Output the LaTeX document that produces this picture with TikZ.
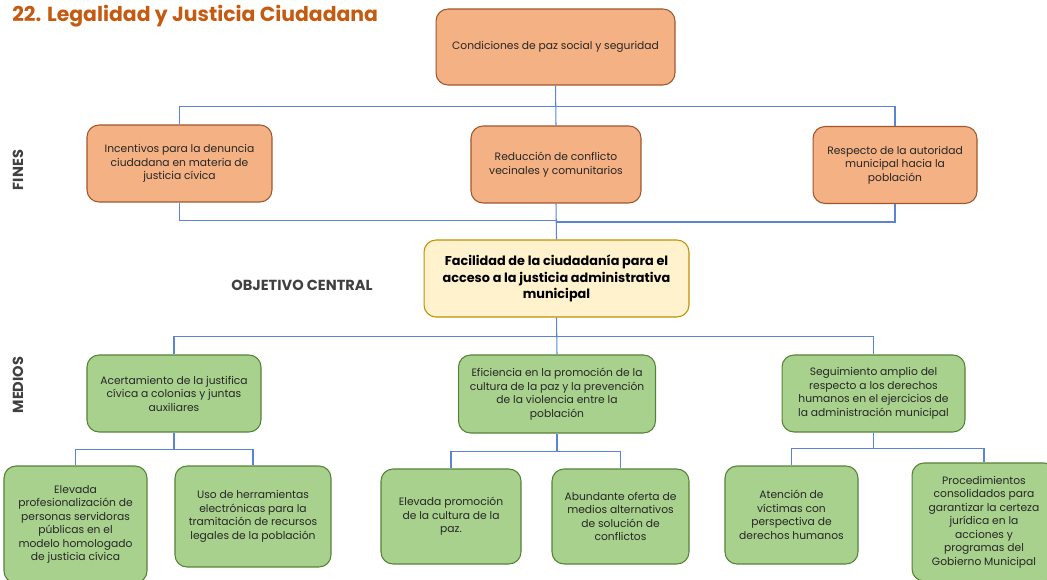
\documentclass[tikz,border=0pt]{standalone}
\usepackage{fontspec}
\setmainfont{Poppins}
\usetikzlibrary{positioning,calc}
\definecolor{titleorange}{HTML}{C55A11}
\definecolor{finfill}{HTML}{F4B183}
\definecolor{finline}{HTML}{A0562C}
\definecolor{objfill}{HTML}{FFF2CC}
\definecolor{objline}{HTML}{BF9000}
\definecolor{medfill}{HTML}{A9D18E}
\definecolor{medline}{HTML}{548235}
\definecolor{wire}{HTML}{5B84D6}
\definecolor{ink}{HTML}{262626}
\definecolor{muted}{HTML}{404040}

\begin{document}
\begin{tikzpicture}[
  x=0.02cm, y=-0.02cm,
  box/.style 2 args={
    draw=#1,
    fill=#2,
    rounded corners=0.24cm,
    line width=0.6pt,
    align=center,
    inner sep=2pt,
    text=ink,
    font=\fontsize{6.1}{7.7}\selectfont
  },
  fin/.style={box={finline}{finfill}, minimum height=1.54cm},
  med/.style={box={medline}{medfill}},
  link/.style={draw=wire, line width=0.6pt},
  side/.style={font=\bfseries\fontsize{8.3}{10}\selectfont, text=muted}
]

% canvas
\useasboundingbox (0,0) rectangle (1047,580);

% Title
\node[anchor=base west, inner sep=0pt, text=titleorange, font=\bfseries\fontsize{11.6}{14}\selectfont] (title) at (12,22) {22. Legalidad y Justicia Ciudadana};

% Side labels
\node[side, rotate=90] (fines) at (18,170) {FINES};
\node[side, rotate=90] (medios) at (18,385) {MEDIOS};
\node[side] (central) at (302,285) {OBJETIVO CENTRAL};

% Top
\node[fin, minimum width=4.78cm, minimum height=1.52cm] (cond) at (555.5,47) {Condiciones de paz social y seguridad};

% Fines
\node[fin, minimum width=3.70cm] (fin1) at (179.5,163.5) {Incentivos para la denuncia\\ciudadana en materia de\\justicia cívica};
\node[fin, minimum width=3.40cm] (fin2) at (556,164.5) {Reducción de conflicto\\vecinales y comunitarios};
\node[fin, minimum width=3.28cm] (fin3) at (895,165) {Respecto de la autoridad\\municipal hacia la\\población};

% Objetivo central
\node[box={objline}{objfill}, minimum width=5.30cm, minimum height=1.54cm,
  font=\bfseries\fontsize{7.3}{9.3}\selectfont, text=black] (obj) at (556.5,278.5) {Facilidad de la ciudadanía para el\\acceso a la justicia administrativa\\municipal};

% Medios
\node[med, minimum width=3.48cm, minimum height=1.54cm] (med1) at (174,393.5) {Acertamiento de la justifica\\cívica a colonias y juntas\\auxiliares};
\node[med, minimum width=3.94cm, minimum height=1.56cm] (med2) at (557,394) {Eficiencia en la promoción de la\\cultura de la paz y la prevención\\de la violencia entre la\\población};
\node[med, minimum width=3.66cm, minimum height=1.54cm] (med3) at (873.5,393.5) {Seguimiento amplio del\\respecto a los derechos\\humanos en el ejercicios de\\la administración municipal};

% Acciones
\node[med, minimum width=2.86cm, minimum height=2.34cm] (sub1) at (75.5,524.5) {Elevada\\profesionalización de\\personas servidoras\\públicas en el\\modelo homologado\\de justicia cívica};
\node[med, minimum width=3.12cm, minimum height=2.02cm] (sub2) at (253,516.5) {Uso de herramientas\\electrónicas para la\\tramitación de recursos\\legales de la población};
\node[med, minimum width=2.80cm, minimum height=1.90cm] (sub3) at (451,516.5) {Elevada promoción\\de la cultura de la\\paz.};
\node[med, minimum width=2.74cm, minimum height=1.90cm] (sub4) at (620.5,516.5) {Abundante oferta de\\medios alternativos\\de solución de\\conflictos};
\node[med, minimum width=2.66cm, minimum height=1.96cm] (sub5) at (791.5,515) {Atención de\\víctimas con\\perspectiva de\\derechos humanos};
\node[med, minimum width=2.88cm, minimum height=2.36cm] (sub6) at (984,522) {Procedimientos\\consolidados para\\garantizar la certeza\\jurídica en la\\acciones y\\programas del\\Gobierno Municipal};

% Top to fines
\draw[link] (cond.south) -- ++(0,21) -| (fin1.north);
\draw[link] (cond.south) -- (fin2.north);
\draw[link] (cond.south) -- ++(0,21) -| (fin3.north);

% Fines to objetivo
\draw[link] (fin1.south) -- ++(0,18) -| (obj.north);
\draw[link] (fin2.south) -- (obj.north);
\draw[link] (fin3.south) -- ++(0,18) -| (obj.north);

% Objetivo to medios
\draw[link] (obj.south) -- ++(0,19) -| (med1.north);
\draw[link] (obj.south) -- (med2.north);
\draw[link] (obj.south) -- ++(0,19) -| (med3.north);

% Medios to acciones
\draw[link] (med1.south) -- ++(0,17) -| (sub1.north);
\draw[link] (med1.south) -- ++(0,17) -| (sub2.north);
\draw[link] (med2.south) -- ++(0,18) -| (sub3.north);
\draw[link] (med2.south) -- ++(0,18) -| (sub4.north);
\draw[link] (med3.south) -- ++(0,16) -| (sub5.north);
\draw[link] (med3.south) -- ++(0,16) -| (sub6.north);

\end{tikzpicture}
\end{document}
